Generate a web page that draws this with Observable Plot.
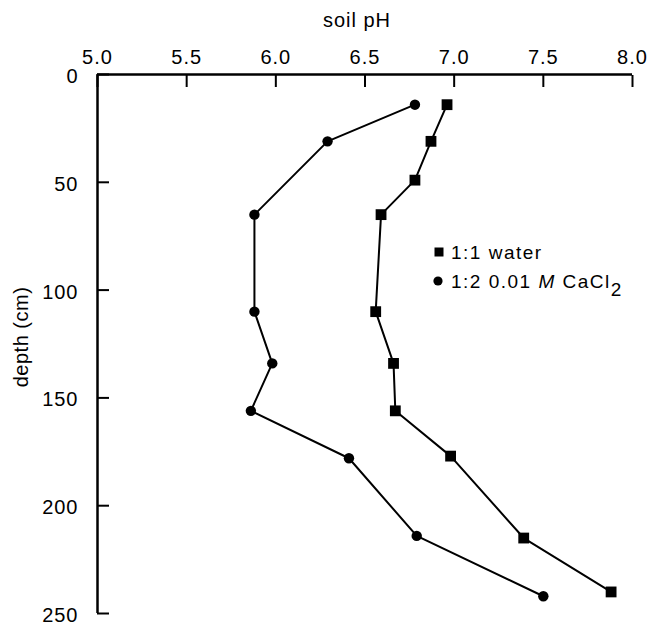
<!DOCTYPE html>
<html>
<head>
<meta charset="utf-8">
<script src="https://cdn.jsdelivr.net/npm/d3@7"></script>
<script src="https://cdn.jsdelivr.net/npm/@observablehq/plot@0.6"></script>
<style>
  html, body { margin: 0; padding: 0; background: #fff; }
  #chart { position: relative; width: 653px; height: 629px; }
</style>
</head>
<body>
<div id="chart"></div>
<script>
// Data
const waterDepth = [14, 31, 49, 65, 110, 134, 156, 177, 215, 240];
const waterPH    = [6.96, 6.87, 6.78, 6.59, 6.56, 6.66, 6.67, 6.98, 7.39, 7.88];
const caclDepth  = [14, 31, 65, 110, 134, 156, 178, 214, 242];
const caclPH     = [6.78, 6.29, 5.88, 5.88, 5.98, 5.86, 6.41, 6.79, 7.50];
const xTicks = [5.0, 5.5, 6.0, 6.5, 7.0, 7.5, 8.0];
const yTicks = [0, 50, 100, 150, 200, 250];
const xLabel = "soil pH";
const yLabel = "depth (cm)";
const seriesNames = ["1:1 water", "1:2 0.01 M CaCl2"];

const water = waterDepth.map((d, i) => ({depth: d, ph: waterPH[i]}));
const cacl = caclDepth.map((d, i) => ({depth: d, ph: caclPH[i]}));

const font = "'Liberation Sans', Arial, Helvetica, sans-serif";

const plot = Plot.plot({
  width: 653,
  height: 629,
  marginTop: 74,
  marginLeft: 97,
  marginRight: 21,
  marginBottom: 16,
  style: {fontFamily: font, fontSize: "20px", color: "#000", background: "#fff", letterSpacing: "1px"},
  x: {domain: [5, 8]},
  y: {domain: [0, 250], reverse: true},
  marks: [
    // tick marks pointing inward
    Plot.axisX({anchor: "top", ticks: xTicks, tickSize: 12, dy: 12, tickFormat: () => "", label: null, strokeWidth: 2}),
    Plot.axisY({anchor: "left", ticks: yTicks, tickSize: 12, dx: 12, tickFormat: () => "", label: null, strokeWidth: 2}),
    // tick labels outside
    Plot.axisX({anchor: "top", ticks: xTicks, tickSize: 0, tickPadding: 11, tickFormat: d => d.toFixed(1), label: null, fontSize: 20}),
    Plot.axisY({anchor: "left", ticks: yTicks, tickSize: 0, tickPadding: 19, tickFormat: d => String(d), label: null, fontSize: 20, dy: 2}),
    Plot.ruleY([0], {stroke: "#000", strokeWidth: 2.5}),
    Plot.ruleX([5], {stroke: "#000", strokeWidth: 2.5}),
    Plot.line(water, {x: "ph", y: "depth", stroke: "#000", strokeWidth: 2}),
    Plot.line(cacl, {x: "ph", y: "depth", stroke: "#000", strokeWidth: 2}),
    Plot.dot(water, {x: "ph", y: "depth", symbol: "square", r: 6.1, fill: "#000", stroke: "none"}),
    Plot.dot(cacl, {x: "ph", y: "depth", symbol: "circle", r: 5.2, fill: "#000", stroke: "none"})
  ]
});

document.getElementById("chart").appendChild(plot);

// Axis titles and legend
const svg = d3.select(plot);
svg.append("text")
  .attr("x", 357).attr("y", 27)
  .attr("text-anchor", "middle")
  .style("font-size", "20px").style("font-family", font).style("letter-spacing", "1px")
  .text(xLabel);
svg.append("text")
  .attr("transform", "translate(28,337) rotate(-90)")
  .attr("text-anchor", "middle")
  .style("font-size", "20px").style("font-family", font).style("letter-spacing", "0.5px")
  .text(yLabel);

const lg = svg.append("g").style("font-family", font).style("font-size", "19px").style("letter-spacing", "1.5px").attr("text-anchor", "start");
lg.append("path").attr("d", d3.symbol(d3.symbolSquare, 81)()).attr("transform", "translate(439,252)").attr("fill", "#000");
lg.append("text").attr("x", 451).attr("y", 258.5).attr("text-anchor", "start").text(seriesNames[0]);
lg.append("circle").attr("cx", 438).attr("cy", 281).attr("r", 4.6).attr("fill", "#000");
const t2 = lg.append("text").attr("x", 451).attr("y", 287.5).attr("text-anchor", "start");
t2.append("tspan").text("1:2 0.01 ");
t2.append("tspan").style("font-style", "italic").text("M");
t2.append("tspan").text(" CaCl");
t2.append("tspan").attr("dy", 8).text("2");
</script>
</body>
</html>
